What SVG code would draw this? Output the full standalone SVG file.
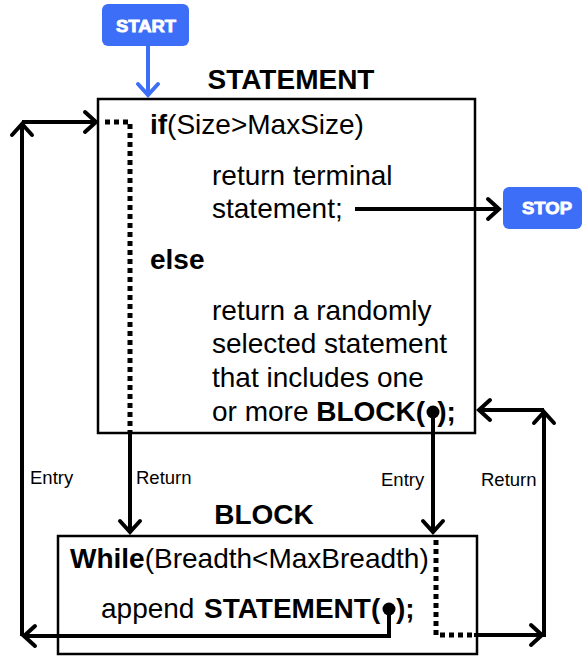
<svg xmlns="http://www.w3.org/2000/svg" width="586" height="656" viewBox="0 0 586 656">
<style>
.t{font-family:"Liberation Sans",Arial,sans-serif;font-size:28px;fill:#000}
.b{font-weight:bold}
.lbl{font-family:"Liberation Sans",Arial,sans-serif;font-size:18.5px;fill:#000}
.box{fill:#fff;stroke:#000;stroke-width:2.5}
.pill{fill:#3d6ef7}
.pt{font-family:"Liberation Sans",Arial,sans-serif;font-size:16px;font-weight:bold;fill:#fff;stroke:#fff;stroke-width:0.8;text-anchor:middle}
.ln{fill:none;stroke:#000;stroke-width:4}
.dot{fill:none;stroke:#000;stroke-width:5;stroke-dasharray:5 4}
</style>
<defs>
<marker id="ah" viewBox="0 0 14 24" refX="12" refY="12" markerWidth="14" markerHeight="24" markerUnits="userSpaceOnUse" orient="auto" overflow="visible">
<path d="M1,2 L12,12 L1,22" fill="none" stroke="#000" stroke-width="4" stroke-linecap="round" stroke-linejoin="miter"/>
</marker>
<marker id="ahb" viewBox="0 0 14 24" refX="12" refY="12" markerWidth="14" markerHeight="24" markerUnits="userSpaceOnUse" orient="auto" overflow="visible">
<path d="M1,2 L12,12 L1,22" fill="none" stroke="#3d6ef7" stroke-width="4" stroke-linecap="round"/>
</marker>
</defs>

<g id="start">
<rect class="pill" x="102" y="4" width="87" height="42" rx="6"/>
<text class="pt" x="146" y="32" textLength="60" lengthAdjust="spacingAndGlyphs">START</text>
</g>

<g id="stop">
<rect class="pill" x="503" y="187" width="79" height="42" rx="6"/>
<text class="pt" x="547" y="214" textLength="50" lengthAdjust="spacingAndGlyphs">STOP</text>
</g>

<g id="statement">
<text class="t b" x="291" y="89" text-anchor="middle">STATEMENT</text>
<rect class="box" x="98" y="99" width="377" height="334"/>
<text class="t" x="150" y="134"><tspan class="b">if</tspan>(Size&gt;MaxSize)</text>
<text class="t" x="212" y="185">return terminal</text>
<text class="t" x="212" y="218">statement;</text>
<text class="t b" x="150" y="269">else</text>
<text class="t" x="212" y="320">return a randomly</text>
<text class="t" x="212" y="353">selected statement</text>
<text class="t" x="212" y="387">that includes one</text>
<text class="t" x="212" y="421">or more <tspan class="b">BLOCK(</tspan><tspan class="b" dx="12">);</tspan></text>
<circle cx="433" cy="412" r="6.5" fill="#000"/>
</g>

<g id="block">
<text class="t b" x="264" y="524" text-anchor="middle">BLOCK</text>
<rect class="box" x="58" y="536" width="419" height="118"/>
<text class="t" x="70" y="568"><tspan class="b">While</tspan>(Breadth&lt;MaxBreadth)</text>
<text class="t" x="101" y="618">append <tspan class="b" x="204">STATEMENT(</tspan><tspan class="b" x="396">);</tspan></text>
<circle cx="389" cy="609" r="6.5" fill="#000"/>
</g>

<g id="connectors">
<path d="M148,46 V95" fill="none" stroke="#3d6ef7" stroke-width="4" marker-end="url(#ahb)"/>
<path class="ln" d="M355,209 H499" marker-end="url(#ah)"/>
<!-- left entry loop -->
<path class="ln" d="M389,609 V636 H24" marker-end="url(#ah)"/>
<path class="ln" d="M22,636 V124" marker-end="url(#ah)"/>
<path class="ln" d="M22,122 H96" marker-end="url(#ah)"/>
<!-- left return -->
<path class="dot" d="M105,122 H130 V433"/>
<path class="ln" d="M130,433 V532" marker-end="url(#ah)"/>
<!-- right entry -->
<path class="ln" d="M433,412 V532" marker-end="url(#ah)"/>
<!-- right return -->
<path class="dot" d="M436,540 V635 H474"/>
<path class="ln" d="M474,635 H542" marker-end="url(#ah)"/>
<path class="ln" d="M544,637 V412" marker-end="url(#ah)"/>
<path class="ln" d="M544,410 H479" marker-end="url(#ah)"/>
</g>

<g id="labels">
<text class="lbl" x="30" y="484">Entry</text>
<text class="lbl" x="136" y="484">Return</text>
<text class="lbl" x="381" y="486">Entry</text>
<text class="lbl" x="481" y="486">Return</text>
</g>
</svg>
